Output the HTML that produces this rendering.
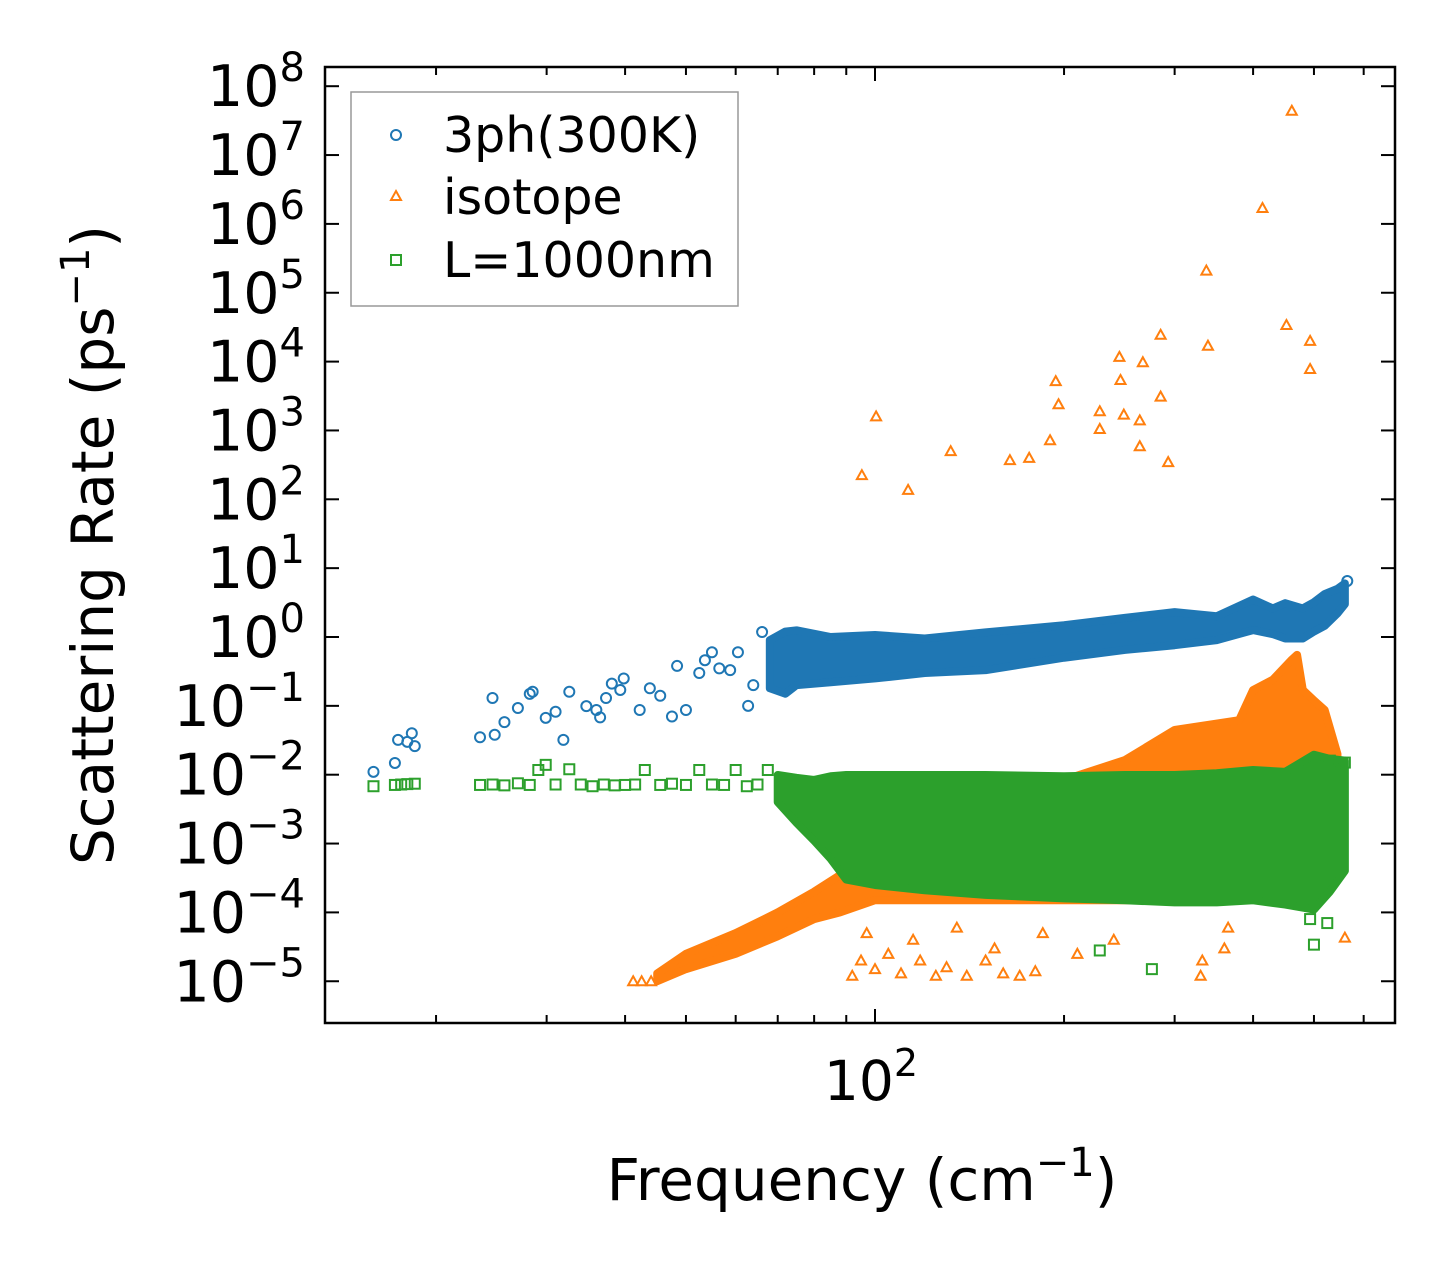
<!DOCTYPE html>
<html><head><meta charset="utf-8"><style>
html,body{margin:0;padding:0;background:#fff}
svg{display:block}
text{font-family:"DejaVu Sans","Liberation Sans",sans-serif;fill:#000}
</style></head><body>
<svg id="chart" width="1455" height="1273" viewBox="0 0 1455 1273" xmlns="http://www.w3.org/2000/svg">
<rect x="0" y="0" width="1455" height="1273" fill="#fff"/>
<g id="plot"></g>
<rect x="325" y="67" width="1070" height="956" fill="none" stroke="#000" stroke-width="2.5"/>
<g id="axes"></g>
<text x="862" y="1200" font-size="58" text-anchor="middle">Frequency (cm<tspan dy="-24" font-size="40">−1</tspan><tspan dy="24">)</tspan></text>
<text transform="translate(113,545) rotate(-90)" font-size="58" text-anchor="middle">Scattering Rate (ps<tspan dy="-24" font-size="40">−1</tspan><tspan dy="24">)</tspan></text>
<g>
<rect x="351" y="92" width="387" height="214" fill="#fff" stroke="#999" stroke-width="1.5"/>
<circle cx="396" cy="135" r="5" fill="none" stroke="#1f77b4" stroke-width="2"/>
<text x="443" y="152" font-size="49">3ph(300K)</text>
<polygon points="396,191 401,200 391,200" fill="none" stroke="#ff7f0e" stroke-width="2"/>
<text x="443" y="214" font-size="49">isotope</text>
<rect x="391" y="255" width="10" height="10" fill="none" stroke="#2ca02c" stroke-width="2"/>
<text x="443" y="277" font-size="49">L=1000nm</text>
</g>
</svg>
<script>
// ---- data ----
const blueBandFreq=[68,72,75,85,100,120,150,200,250,300,350,400,430,450,480,500,520,545,560];
const blueBandHi=[0.9,1.2,1.25,1.0,1.07,0.95,1.17,1.48,1.9,2.3,2.0,3.5,2.6,3.1,2.6,3.2,4.2,5.0,6.0];
const blueBandLo=[0.18,0.15,0.2,0.22,0.25,0.3,0.33,0.5,0.65,0.76,0.9,1.26,1.1,0.95,0.95,1.2,1.45,2.2,3.0];
const greenBandFreq=[70,75,80,85,90,100,120,150,200,250,300,350,400,450,500,530,560];
const greenBandHi=[0.0099,0.009,0.0084,0.0095,0.0099,0.0099,0.0099,0.0099,0.0095,0.0099,0.0099,0.0105,0.0117,0.011,0.0195,0.017,0.016];
const greenBandLo=[0.004,0.002,0.0011,0.0006,0.0003,0.00025,0.00021,0.00018,0.00016,0.00015,0.00014,0.00014,0.00015,0.00013,0.00011,0.0002,0.0004];
const orangeBandFreq=[45,50,60,70,80,88,100,150,200,250,300,380,400,430,460,470,480,500,520,545];
const orangeBandHi=[1.3e-5,2.5e-5,5e-5,1e-4,2e-4,3.5e-4,8.1e-4,1.58e-3,8.4e-3,0.0163,0.0447,0.062,0.17,0.24,0.46,0.55,0.17,0.12,0.087,0.02];
const orangeBandLo=[1.0e-5,1.5e-5,2.5e-5,4.5e-5,8e-5,1.0e-4,1.5e-4,1.5e-4,1.5e-4,1.5e-4,1.5e-4,2e-4,5e-4,1e-3,1.5e-3,2e-3,2e-3,2e-3,2e-3,2e-3];
const blueFreq=[15.9,17.2,17.4,18.0,18.3,18.5,23.5,24.6,24.8,25.7,27.0,28.2,28.5,29.9,31.0,31.9,32.6,34.7,36.0,36.5,37.3,38.1,39.3,39.8,42.2,43.8,45.5,47.5,48.4,50.0,52.5,53.6,55.0,56.5,58.8,60.5,62.8,64.0,66.1,565];
const blueVal=[0.011,0.0148,0.032,0.030,0.040,0.026,0.035,0.13,0.038,0.058,0.093,0.149,0.16,0.067,0.082,0.032,0.16,0.099,0.087,0.068,0.13,0.21,0.17,0.25,0.087,0.18,0.14,0.07,0.38,0.087,0.3,0.46,0.6,0.35,0.33,0.6,0.10,0.2,1.18,6.5];
const greenFreq=[15.9,17.2,17.6,18.0,18.5,23.5,24.6,25.7,27.0,28.2,29.1,29.9,31.0,32.6,34.0,35.5,37.0,38.5,40.0,41.5,43.0,45.5,47.5,50.0,52.5,55.0,57.5,60.0,62.5,65.0,67.5,228,276,322,345,493,500,525,530,560];
const greenVal=[0.0068,0.0071,0.0072,0.0073,0.0074,0.0071,0.0072,0.0070,0.0075,0.0071,0.0117,0.0139,0.0072,0.012,0.0072,0.0068,0.0072,0.0070,0.0071,0.0072,0.0117,0.0071,0.0074,0.0071,0.0117,0.0072,0.0071,0.0117,0.0068,0.0072,0.0117,2.8e-5,1.5e-5,1.6e-4,1.6e-4,8e-5,3.4e-5,7e-5,0.016,0.015];
const orangeFreq=[95.3,100.4,112.9,132,164,176,190,194,196,228,228,245,246,249,264,264,267,285,285,293,337,339,414,452,461,493,493,41.2,42.5,44.0,560,92,95,100,105,110,118,125,130,140,150,160,170,180,330,332,97,115,135,155,185,210,240,360,365];
const orangeVal=[224,1600,137,500,370,400,720,5200,2400,1900,1050,11700,5400,1700,1400,590,9800,24500,3100,347,2.1e5,1.7e4,1.7e6,3.4e4,4.4e7,2.0e4,7800,1e-5,1e-5,1e-5,4.3e-5,1.2e-5,2e-5,1.5e-5,2.5e-5,1.3e-5,2e-5,1.2e-5,1.6e-5,1.2e-5,2e-5,1.3e-5,1.2e-5,1.4e-5,1.2e-5,2e-5,5e-5,4e-5,6e-5,3e-5,5e-5,2.5e-5,4e-5,3e-5,6e-5];
const yTickExp=[-5,-4,-3,-2,-1,0,1,2,3,4,5,6,7,8];
const xMinor=[20,30,40,50,60,70,80,90,200,300,400,500,600];
// ---- axes functions ----
const X=f=>875+628*(Math.log10(f)-2);
const Y=v=>637-68.85*Math.log10(v);
const NS='http://www.w3.org/2000/svg';
const plot=document.getElementById('plot'), axes=document.getElementById('axes');
function mk(tag,parent){const e=document.createElementNS(NS,tag);parent.appendChild(e);return e;}
function band(fr,hi,lo,col,name){
  const p=mk('polygon',plot);
  
  
  const pts=[];
  fr.forEach((f,i)=>pts.push(X(f)+','+Y(hi[i])));
  for(let i=fr.length-1;i>=0;i--)pts.push(X(fr[i])+','+Y(lo[i]));
  p.setAttribute('points',pts.join(' '));
  p.setAttribute('fill',col);p.setAttribute('stroke',col);
  p.setAttribute('stroke-width','8');p.setAttribute('stroke-linejoin','round');
}
function marker(type,f,v,col,name){
  const x=X(f),y=Y(v);let e;
  if(type==='c'){e=mk('circle',plot);e.setAttribute('cx',x);e.setAttribute('cy',y);e.setAttribute('r',5);}
  else if(type==='t'){e=mk('polygon',plot);e.setAttribute('points',`${x},${y-5} ${x+5},${y+4} ${x-5},${y+4}`);}
  else{e=mk('rect',plot);e.setAttribute('x',x-5);e.setAttribute('y',y-5);e.setAttribute('width',10);e.setAttribute('height',10);}
  
  
  e.setAttribute('fill','none');e.setAttribute('stroke',col);e.setAttribute('stroke-width','2');
}
band(orangeBandFreq,orangeBandHi,orangeBandLo,'#ff7f0e','isotope-dense-band');
orangeFreq.forEach((f,i)=>marker('t',f,orangeVal[i],'#ff7f0e','isotope-point'));
band(blueBandFreq,blueBandHi,blueBandLo,'#1f77b4','3ph-dense-band');
blueFreq.forEach((f,i)=>marker('c',f,blueVal[i],'#1f77b4','3ph-point'));
band(greenBandFreq,greenBandHi,greenBandLo,'#2ca02c','boundary-dense-band');
greenFreq.forEach((f,i)=>marker('s',f,greenVal[i],'#2ca02c','boundary-point'));
// ticks
function line(x1,y1,x2,y2,name){const l=mk('line',axes);
  
  
  l.setAttribute('x1',x1);l.setAttribute('y1',y1);l.setAttribute('x2',x2);l.setAttribute('y2',y2);
  l.setAttribute('stroke','#000');l.setAttribute('stroke-width','2');}
yTickExp.forEach(e=>{const y=Y(Math.pow(10,e));
  line(325,y,339,y,'y-tick');line(1395,y,1381,y,'y-tick');
  const t=mk('text',axes);
  
  
  t.setAttribute('x',305);t.setAttribute('y',y+20);t.setAttribute('text-anchor','end');t.setAttribute('font-size','57');
  const sup=e<0?'−'+(-e):String(e);
  t.innerHTML='10<tspan dy="-25" font-size="40">'+sup+'</tspan>';
});
line(X(100),1023,X(100),1009,'x-tick');line(X(100),67,X(100),81,'x-tick');
xMinor.forEach(f=>{const x=X(f);line(x,1023,x,1015,'x-minor-tick');line(x,67,x,75,'x-minor-tick');});
const xl=mk('text',axes);


xl.setAttribute('x',X(100)-4);xl.setAttribute('y',1100);xl.setAttribute('text-anchor','middle');xl.setAttribute('font-size','55');
xl.innerHTML='10<tspan dy="-24" font-size="38">2</tspan>';
</script>
</body></html>
